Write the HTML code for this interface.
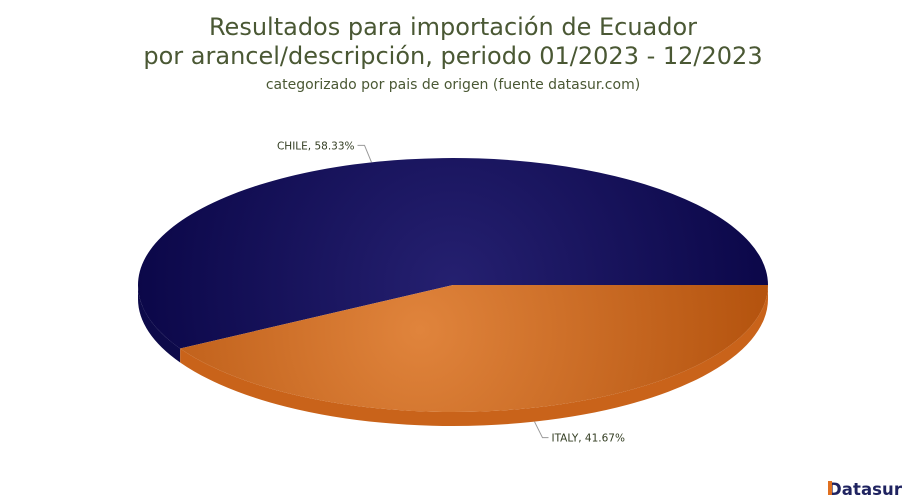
<!DOCTYPE html>
<html><head><meta charset="utf-8"><style>
body{margin:0;background:#fff;width:907px;height:500px;overflow:hidden;font-family:"DejaVu Sans",Verdana,sans-serif}
</style></head><body>
<svg id="chart" width="907" height="500">
<defs>
<radialGradient id="gNavy" cx="453" cy="285" r="330" gradientUnits="userSpaceOnUse">
<stop offset="0" stop-color="#252070"/><stop offset="1" stop-color="#0a0647"/></radialGradient>
<radialGradient id="gOrange" cx="420" cy="330" r="340" gradientUnits="userSpaceOnUse">
<stop offset="0" stop-color="#e0843c"/><stop offset="1" stop-color="#b5540f"/></radialGradient>
</defs>
<text x="453" y="35" text-anchor="middle" font-size="24" fill="#4a5834">Resultados para importación de Ecuador</text>
<text x="453" y="64" text-anchor="middle" font-size="24" fill="#4a5834">por arancel/descripción, periodo 01/2023 - 12/2023</text>
<text x="453" y="89" text-anchor="middle" font-size="14" fill="#4a5834">categorizado por pais de origen (fuente datasur.com)</text>
<g id="pie"></g>
<g>
<text x="828" y="495" font-size="16.5" font-weight="bold" fill="#1f2360" textLength="74">Datasur</text>
<rect x="828" y="481" width="4" height="14" fill="#e07020"/>
</g>
</svg>
<script>
const categories=["CHILE","ITALY"];
const values=[58.33,41.67];
const labels=["CHILE, 58.33%","ITALY, 41.67%"];
const cx=453,cy=285,rx=315,ry=127,depth=14;
const tops=["url(#gNavy)","url(#gOrange)"],sides=["#0d0a4a","#c9631a"];
const ns="http://www.w3.org/2000/svg",g=document.getElementById('pie');
const total=values.reduce((a,b)=>a+b,0);
const P=(a,dy=0)=>[cx+rx*Math.cos(a*Math.PI/180),cy+dy+ry*Math.sin(a*Math.PI/180)];
let start=-values[0]/total*360;
const sl=values.map((v,i)=>{const s=start;start+=v/total*360;return [s,start];});
sl.forEach(([s,e],i)=>{
  [-360,0,360].forEach(off=>{
    const a1=Math.max(s+off,0), b1=Math.min(e+off,180);
    if(b1<=a1)return;
    const p1=P(a1),p2=P(b1),p3=P(b1,depth),p4=P(a1,depth);
    const path=document.createElementNS(ns,'path');
    path.setAttribute('d',`M${p1}A${rx},${ry} 0 0 1 ${p2}L${p3}A${rx},${ry} 0 0 0 ${p4}Z`);
    path.setAttribute('fill',sides[i]);
    
    
    g.appendChild(path);
  });
});
sl.forEach(([s,e],i)=>{
  const p1=P(s),p2=P(e),large=(e-s)>180?1:0;
  const path=document.createElementNS(ns,'path');
  path.setAttribute('d',`M${cx},${cy}L${p1}A${rx},${ry} 0 ${large} 1 ${p2}Z`);
  path.setAttribute('fill',tops[i]);
  
  
  g.appendChild(path);
  const m=(s+e)/2,rad=m*Math.PI/180,below=Math.sin(rad)>0;
  const [ex,ey]=P(m,below?depth:0);
  const ly=below?ey+16:ey-17;
  const x2=below?ex+8:ex-7, x3=below?x2+6:x2-7;
  const line=document.createElementNS(ns,'polyline');
  line.setAttribute('points',`${ex},${ey} ${x2},${ly} ${x3},${ly}`);
  line.setAttribute('fill','none');line.setAttribute('stroke','#999');
  
  
  g.appendChild(line);
  const t=document.createElementNS(ns,'text');
  t.setAttribute('x',below?x3+3:x3-3);t.setAttribute('y',ly+4);
  t.setAttribute('text-anchor',below?'start':'end');
  t.setAttribute('font-size','10.5');t.setAttribute('fill','#333d22');
  t.textContent=labels[i];
  
  
  g.appendChild(t);
});
</script>
</body></html>
